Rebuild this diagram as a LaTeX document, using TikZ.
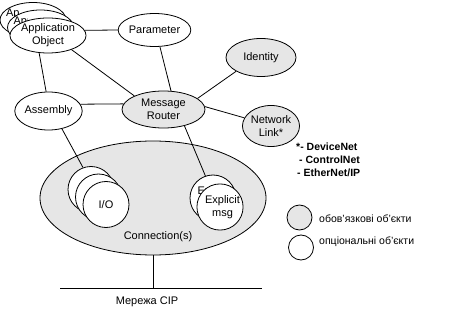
\documentclass[tikz,border=0pt]{standalone}
\usepackage{fontspec}
\setmainfont{Liberation Sans}
\usetikzlibrary{shapes.geometric}
\definecolor{reqgray}{HTML}{E6E6E6}
\begin{document}
\begin{tikzpicture}[x=1pt,y=-1pt,
  txt/.style={font=\fontsize{11}{13}\selectfont, inner sep=0pt, align=center},
  obj/.style={ellipse, draw, line width=0.8pt, inner sep=0pt, txt},
  req/.style={obj, fill=reqgray},
  opt/.style={obj, fill=white},
  ring/.style={circle, draw, line width=0.8pt, fill=white, inner sep=0pt, minimum size=46pt, txt},
  link/.style={draw, line width=0.8pt},
  note/.style={font=\fontsize{10.5}{13}\selectfont\bfseries, inner sep=0pt, anchor=west},
  legend/.style={font=\fontsize{10.5}{13}\selectfont, inner sep=0pt, anchor=west}]
\useasboundingbox (0,0) rectangle (449,312);

% connection object with the network below it
\node[req, minimum width=226pt, minimum height=114pt] (conn) at (153,198) {};
\node[txt] (conntext) at (158,237) {Connection(s)};
\coordinate (busL) at (60,288);
\coordinate (busR) at (262,288);
\draw[link] (busL) -- (busR);
\draw[link] (conn.south) -- (conn.south |- busL);
\node[txt] (cip) at (147,302) {Мережа CIP};

% stacked application objects (the rear labels only peek out on the left)
\node[opt, minimum width=66pt, minimum height=35pt] (ao3) at (33,20) {};
\begin{scope}
  \clip (0,0) rectangle (19,40);
  \node[txt] (ao3text) at (33,20.5) {Application\\Object};
\end{scope}
\node[opt, minimum width=66pt, minimum height=35pt] (ao2) at (40.5,27.5) {};
\begin{scope}
  \clip (0,0) rectangle (27,50);
  \node[txt] (ao2text) at (40.5,28) {Application\\Object};
\end{scope}
\node[opt, minimum width=66pt, minimum height=35pt] (ao1) at (48,35.5) {Application\\Object};

\node[opt, minimum width=65pt, minimum height=33pt] (param) at (154.5,30) {Parameter};
\node[req, minimum width=70pt, minimum height=38pt] (ident) at (261,57.5) {Identity};
\node[opt, minimum width=65pt, minimum height=38pt] (asm) at (48.5,111) {Assembly};
\node[req, minimum width=83pt, minimum height=37pt] (router) at (163.5,109.5) {Message\\Router};
\node[req, minimum width=57pt, minimum height=41pt] (netlink) at (271,126) {Network\\Link*};

% I/O and explicit message connections
\node[ring] (io3) at (91,189.5) {};
\node[ring] (io2) at (98.5,197) {};
\node[ring] (io1) at (106,204.5) {I/O};
\node[ring] (ex2) at (213,198) {};
\begin{scope}
  \clip (190,175) rectangle (206,200);
  \node[txt] (ex2text) at (215,198) {Explicit\\msg};
\end{scope}
\node[ring] (ex1) at (220,207) {\hspace*{5pt}Explicit\\\hspace*{5pt}msg};

% links between objects
\draw[link] (ao1.8) -- (param.west);
\draw[link] (ao1.243) -- (asm.97);
\draw[link] (ao1.-31) -- (router.155);
\draw[link] (param.-72) -- (router.68);
\draw[link] (ident.209) -- (router.18);
\draw[link] (asm.12) -- (router.172);
\draw[link] (router.4) -- (netlink.163);
\draw[link] (asm.-53) -- (io3.110);
\draw[link] (router.-38) -- (ex2.109);

% network types
\node[note] (n1) at (296,147) {*- DeviceNet};
\node[note] (n2) at (299,160) {- ControlNet};
\node[note] (n3) at (297,173) {- EtherNet/IP};

% legend
\node[circle, draw, line width=0.8pt, fill=reqgray, minimum size=25pt, inner sep=0pt] (lgreq) at (299.5,217.5) {};
\node[circle, draw, line width=0.8pt, fill=white, minimum size=25pt, inner sep=0pt] (lgopt) at (301,247.5) {};
\node[legend] (lgreqtext) at (319,219) {обов'язкові об’єкти};
\node[legend] (lgopttext) at (319,242) {опціональні об’єкти};
\end{tikzpicture}
\end{document}
